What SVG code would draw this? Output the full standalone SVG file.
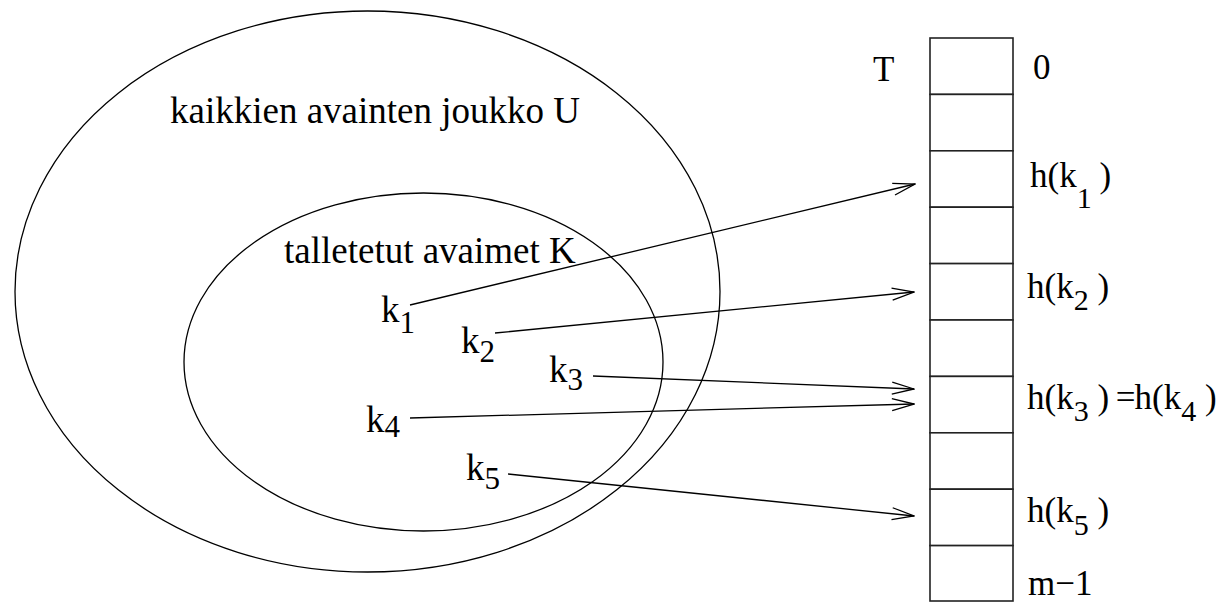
<svg xmlns="http://www.w3.org/2000/svg" width="1224" height="602" viewBox="0 0 1224 602">
  <style>
    .set { fill: none; stroke: #000; stroke-width: 1.3; }
    .cell { fill: #fff; stroke: #222; stroke-width: 1.6; }
    .edge { fill: none; stroke: #000; stroke-width: 1.3; marker-end: url(#open); }
    text { font-family: 'Liberation Serif', 'Times New Roman', serif; fill: #000; }
    .lbl { font-size: 37px; }
    .rl { font-size: 35px; }
    .sub { font-size: 31px; }
    .rsub { font-size: 30px; }
  </style>
  <defs>
    <marker id="open" viewBox="0 0 24 14" refX="23" refY="7" markerWidth="24" markerHeight="14" markerUnits="userSpaceOnUse" orient="auto">
      <path d="M1,1 L23,7 L1,13" fill="none" stroke="#000" stroke-width="1.3"/>
    </marker>
  </defs>

  <g id="universe">
    <ellipse class="set" cx="367.5" cy="291.5" rx="352.5" ry="280.5"/>
    <text class="lbl" x="170" y="123">kaikkien avainten joukko U</text>
  </g>

  <g id="stored-keys">
    <ellipse class="set" cx="423.5" cy="362" rx="239.5" ry="169"/>
    <text class="lbl" x="284" y="263">talletetut avaimet K</text>
  </g>

  <g id="k1"><text class="lbl" x="381" y="322">k<tspan class="sub" dy="11">1</tspan></text></g>
  <g id="k2"><text class="lbl" x="461" y="353">k<tspan class="sub" dy="9">2</tspan></text></g>
  <g id="k3"><text class="lbl" x="549" y="382">k<tspan class="sub" dy="8">3</tspan></text></g>
  <g id="k4"><text class="lbl" x="366" y="432">k<tspan class="sub" dy="5">4</tspan></text></g>
  <g id="k5"><text class="lbl" x="466" y="480">k<tspan class="sub" dy="9">5</tspan></text></g>

  <g id="table-T">
    <text class="rl" x="873" y="81">T</text>
    <rect class="cell" x="930" y="38" width="83" height="56.4"/>
    <rect class="cell" x="930" y="94.4" width="83" height="56.4"/>
    <rect class="cell" x="930" y="150.8" width="83" height="56.4"/>
    <rect class="cell" x="930" y="207.2" width="83" height="56.4"/>
    <rect class="cell" x="930" y="263.6" width="83" height="56.4"/>
    <rect class="cell" x="930" y="320" width="83" height="56.4"/>
    <rect class="cell" x="930" y="376.4" width="83" height="56.4"/>
    <rect class="cell" x="930" y="432.8" width="83" height="56.4"/>
    <rect class="cell" x="930" y="489.2" width="83" height="56.4"/>
    <rect class="cell" x="930" y="545.6" width="83" height="55.4"/>
  </g>

  <g id="slot-labels">
    <text class="rl" x="1033" y="79">0</text>
    <text class="rl" x="1030" y="187">h(k<tspan class="rsub" dy="21">1</tspan><tspan dy="-21" dx="-1"> )</tspan></text>
    <text class="rl" x="1027" y="298">h(k<tspan class="rsub" dy="12">2</tspan><tspan dy="-12"> )</tspan></text>
    <text class="rl" x="1027" y="409">h(k<tspan class="rsub" dy="12">3</tspan><tspan dy="-12"> )</tspan><tspan dx="-2"> =</tspan><tspan dx="-1">h(k</tspan><tspan class="rsub" dy="12">4</tspan><tspan dy="-12"> )</tspan></text>
    <text class="rl" x="1027" y="522">h(k<tspan class="rsub" dy="13">5</tspan><tspan dy="-13"> )</tspan></text>
    <text class="rl" x="1028" y="595">m−1</text>
  </g>

  <g id="connectors">
    <line class="edge" x1="410" y1="305" x2="915" y2="184"/>
    <line class="edge" x1="495" y1="333" x2="914" y2="292"/>
    <line class="edge" x1="593" y1="376" x2="914" y2="389"/>
    <line class="edge" x1="410" y1="418" x2="914" y2="404"/>
    <line class="edge" x1="508" y1="474" x2="914" y2="516"/>
  </g>
</svg>
